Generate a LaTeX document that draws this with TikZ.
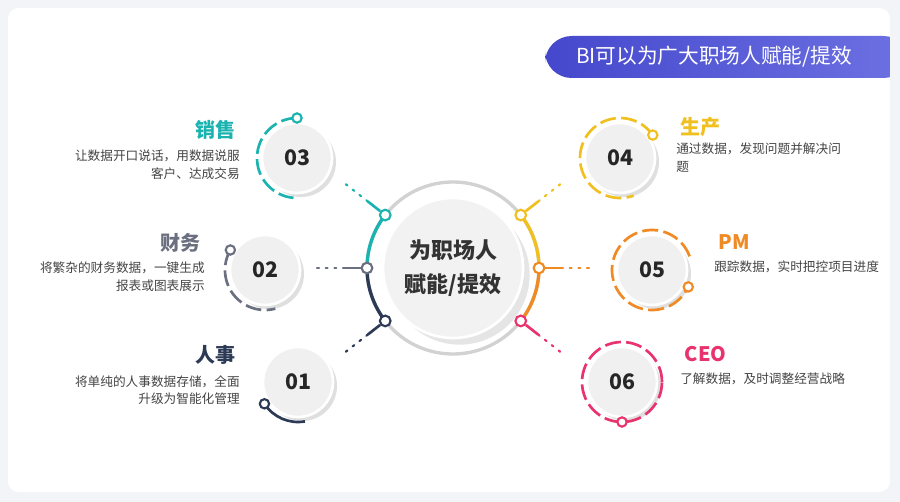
\documentclass[tikz,border=0pt]{standalone}
\usepackage{fontspec}
\setmainfont{Noto Sans CJK SC}
\usetikzlibrary{shadows,calc}
\definecolor{cteal}{HTML}{1BB3B0}
\definecolor{cgray}{HTML}{6B7080}
\definecolor{cnavy}{HTML}{2D3A55}
\definecolor{cyel}{HTML}{F0C020}
\definecolor{corg}{HTML}{F08A24}
\definecolor{cpink}{HTML}{E8336E}
\definecolor{ctxt}{HTML}{444444}
\definecolor{cbg}{HTML}{F3F4F8}
\definecolor{cb1}{HTML}{4548CC}
\definecolor{cb2}{HTML}{6D71E2}
\tikzset{
 numc/.style={circle,minimum size=70pt*0.75,fill=gray!12,draw=white,line width=2pt,
   drop shadow={shadow xshift=3pt,shadow yshift=-3pt,opacity=0.25},
   font=\bfseries\fontsize{16}{16}\selectfont,text=black!85},
 ttl/.style={font=\bfseries\fontsize{15}{15}\selectfont},
 dsc/.style={font=\fontsize{9.5}{13}\selectfont,text=ctxt,align=left,inner sep=0pt},
 dsr/.style={dsc,align=right},
 ring/.style={line width=2pt,dash pattern=on 12pt off 4pt},
 hub/.style={circle,draw=#1,fill=white,line width=1.6pt,minimum size=8pt,inner sep=0pt},
 dotl/.style={line width=1.6pt,dash pattern=on 1.5pt off 5pt,line cap=round},
}
\begin{document}
\begin{tikzpicture}[x=0.75pt,y=-0.75pt]
\useasboundingbox (0,0) rectangle (900,502);
\fill[cbg] (0,0) rectangle (900,502);
\fill[white,rounded corners=8pt] (8,8) rectangle (890,492);
% banner
\shade[left color=cb1,right color=cb2,rounded corners=20pt] (545,36) rectangle (910,78);
\fill[cbg] (890,30) rectangle (900,85);
\node[text=white,font=\fontsize{15.5}{16}\selectfont] (ban) at (714,57) {BI可以为广大职场人赋能/提效};
% central
\begin{scope}[shift={(453,268)},yscale=-1]
\draw[gray!35,line width=2.5pt] (0,0) circle (86);
\draw[cteal,line width=2.5pt] (142:86) arc[start angle=142,end angle=180,radius=86];
\draw[cnavy,line width=2.5pt] (180:86) arc[start angle=180,end angle=218,radius=86];
\draw[cyel,line width=2.5pt] (38:86) arc[start angle=38,end angle=0,radius=86];
\draw[corg,line width=2.5pt] (0:86) arc[start angle=0,end angle=-38,radius=86];
\node[circle,minimum size=140pt*0.75,fill=gray!10,draw=white,line width=2pt,
  drop shadow={shadow xshift=5pt,shadow yshift=-5pt,opacity=0.2},align=center,
  font=\bfseries\fontsize{16.5}{25}\selectfont,text=black!80] (c) at (0,0) {为职场人\\赋能/提效};
\foreach \a/\col/\n in {142/cteal/ht,180/cgray/hg,218/cnavy/hn,38/cyel/hy,0/corg/ho,-38/cpink/hp}{
  \coordinate (\n a) at (\a:108);
  \coordinate (\n b) at (\a:136);
  \node[hub=\col] (\n) at (\a:86) {};
  \draw[\col,line width=2pt] (\n) -- (\n a);
  \draw[\col,dotl] (\n a) -- (\n b);
}
\end{scope}
% number circles
\node[numc] (n3) at (297,158) {03};
\node[numc] (n2) at (265,270) {02};
\node[numc] (n1) at (298,382) {01};
\node[numc] (n4) at (620,158) {04};
\node[numc] (n5) at (652,270) {05};
\node[numc] (n6) at (622,382) {06};
% rings
\begin{scope}[shift={(297,158)},yscale=-1]
\draw[cteal,ring] (90:40) arc[start angle=90,end angle=265,radius=40];
\node[hub=cteal,minimum size=7pt] at (90:40) {};
\end{scope}
\begin{scope}[shift={(265,270)},yscale=-1]
\draw[cgray,ring] (150:40) arc[start angle=150,end angle=285,radius=40];
\node[hub=cgray,minimum size=7pt] at (150:40) {};
\end{scope}
\begin{scope}[shift={(298,382)},yscale=-1]
\draw[cnavy,line width=2pt] (213:40) arc[start angle=213,end angle=280,radius=40];
\node[hub=cnavy,minimum size=7pt] at (213:40) {};
\end{scope}
\begin{scope}[shift={(620,158)},yscale=-1]
\draw[cyel,ring] (35:40) arc[start angle=35,end angle=290,radius=40];
\node[hub=cyel,minimum size=7pt] at (35:40) {};
\end{scope}
\begin{scope}[shift={(652,270)},yscale=-1]
\draw[corg,ring] (20:40) arc[start angle=20,end angle=335,radius=40];
\node[hub=corg,minimum size=7pt] at (-25:40) {};
\end{scope}
\begin{scope}[shift={(622,382)},yscale=-1]
\draw[cpink,ring] (0,0) circle (40);
\node[hub=cpink,minimum size=7pt] at (-90:40) {};
\end{scope}
% labels
\node[ttl,text=cteal,anchor=east] (t3) at (240,130) {销售};
\node[dsr,anchor=north east] (d3) at (240,150) {让数据开口说话，用数据说服\\客户、达成交易};
\node[ttl,text=cgray,anchor=east] (t2) at (205,243) {财务};
\node[dsr,anchor=north east] (d2) at (205,262) {将繁杂的财务数据，一键生成\\报表或图表展示};
\node[ttl,text=cnavy,anchor=east] (t1) at (240,355) {人事};
\node[dsr,anchor=north east] (d1) at (240,375) {将单纯的人事数据存储，全面\\升级为智能化管理};
\node[ttl,text=cyel,anchor=west] (t4) at (676,127) {生产};
\node[dsc,anchor=north west] (d4) at (676,143) {通过数据，发现问题并解决问\\题};
\node[ttl,text=corg,anchor=west] (t5) at (714,242) {PM};
\node[dsc,anchor=north west] (d5) at (714,261) {跟踪数据，实时把控项目进度};
\node[ttl,text=cpink,anchor=west] (t6) at (680,354) {CEO};
\node[dsc,anchor=north west] (d6) at (680,373) {了解数据，及时调整经营战略};
\end{tikzpicture}
\end{document}
